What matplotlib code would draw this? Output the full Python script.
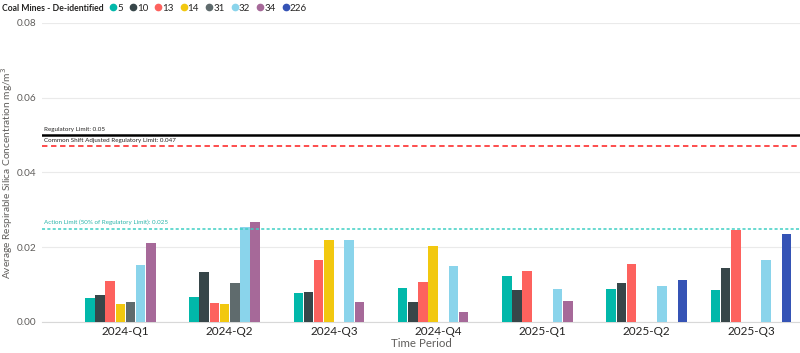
import matplotlib.pyplot as plt
import numpy as np
from matplotlib.lines import Line2D

plt.rcParams['font.family'] = ['Lato', 'DejaVu Sans']

# Quarters on the x axis
periods = ["2024-Q1", "2024-Q2", "2024-Q3", "2024-Q4", "2025-Q1", "2025-Q2", "2025-Q3"]

# Mines (series) and their average concentrations, nan = no sample that quarter
mines = ["5", "10", "13", "14", "31", "32", "34", "226"]
mine5 = [0.0063, 0.0067, 0.0077, 0.0090, 0.0122, 0.0087, 0.0086]
mine10 = [0.0071, 0.0133, 0.0080, 0.0054, 0.0085, 0.0103, 0.0144]
mine13 = [0.0109, 0.0051, 0.0166, 0.0106, 0.0136, 0.0155, 0.0247]
mine14 = [0.0048, 0.0048, 0.0219, 0.0203, np.nan, np.nan, np.nan]
mine31 = [0.0054, 0.0105, np.nan, np.nan, np.nan, np.nan, np.nan]
mine32 = [0.0152, 0.0253, 0.0218, 0.0150, 0.0088, 0.0096, 0.0167]
mine34 = [0.0211, 0.0268, 0.0053, 0.0026, 0.0056, np.nan, np.nan]
mine226 = [np.nan, np.nan, np.nan, np.nan, np.nan, 0.0112, 0.0236]
series = [mine5, mine10, mine13, mine14, mine31, mine32, mine34, mine226]

colors = ["#01B8AA", "#374649", "#FD625E", "#F2C80F", "#5F6B6D", "#8AD4EB", "#A66999", "#3553B5"]

# Limits drawn as reference lines
reg_limit = 0.05
shift_limit = 0.047
action_limit = 0.025

fig = plt.figure(figsize=(8, 3.53), dpi=100)
ax = fig.add_axes([0.0525, 0.088, 0.9475, 0.847])

x = np.arange(len(periods))
slot = 0.0975
for i, vals in enumerate(series):
    offs = (i - (len(series) - 1) / 2) * slot
    ax.bar(x + offs, vals, width=slot * 0.94, color=colors[i], zorder=3)

# reference lines
ax.axhline(reg_limit, color="black", lw=1.8, zorder=4)
ax.axhline(shift_limit, color="#FD3F3F", lw=1.3, ls=(0, (3, 2)), zorder=4)
ax.axhline(action_limit, color="#3FCFC4", lw=1.1, ls=(0, (2, 1.5)), zorder=4)
trans = ax.get_yaxis_transform()
ax.text(0.002, reg_limit + 0.0009, "Regulatory Limit: 0.05", transform=trans,
        fontsize=4.5, color="#252423", va="bottom", ha="left")
ax.text(0.002, shift_limit + 0.0009, "Common Shift Adjusted Regulatory Limit: 0.047", transform=trans,
        fontsize=4.5, color="#252423", va="bottom", ha="left")
ax.text(0.002, action_limit + 0.0009, "Action Limit (50% of Regulatory Limit): 0.025", transform=trans,
        fontsize=4.5, color="#2BB5AB", va="bottom", ha="left")

ax.set_xlim(-0.8, 6.47)
ax.set_ylim(0, 0.08)
ax.set_yticks([0, 0.02, 0.04, 0.06, 0.08])
ax.set_yticklabels(["0.00", "0.02", "0.04", "0.06", "0.08"])
ax.set_xticks(x)
ax.set_xticklabels(periods)
ax.tick_params(axis="both", length=0, colors="#605E5C")
ax.tick_params(axis="x", pad=3, labelcolor="#252423", labelsize=8.5)
ax.tick_params(axis="y", pad=4, labelsize=7.2)
ax.grid(axis="y", color="#EAEAEA", lw=0.8, zorder=0)
for s in ["top", "right", "left"]:
    ax.spines[s].set_visible(False)
ax.spines["bottom"].set_color("#D8D8D8")
ax.set_xlabel("Time Period", fontsize=8.3, color="#605E5C", labelpad=1)
ax.set_ylabel("Average Respirable Silica Concentration mg/m$^3$", fontsize=7.3,
              color="#605E5C")
ax.yaxis.set_label_coords(-0.036, 0.5)

# legend across the top
fig.text(0.003, 0.977, "Coal Mines - De-identified", fontsize=6.2, fontweight="bold",
         color="#252423", va="center", ha="left")
handles = [Line2D([], [], marker="o", ls="", color=c, markersize=4.5) for c in colors]
fig.legend(handles, mines, loc="center left", bbox_to_anchor=(0.128, 0.977), ncol=8,
           frameon=False, fontsize=7, handletextpad=-0.2, columnspacing=0.45,
           borderpad=0, handlelength=1.2, labelcolor="#252423")

fig.savefig("out.png", dpi=100)
